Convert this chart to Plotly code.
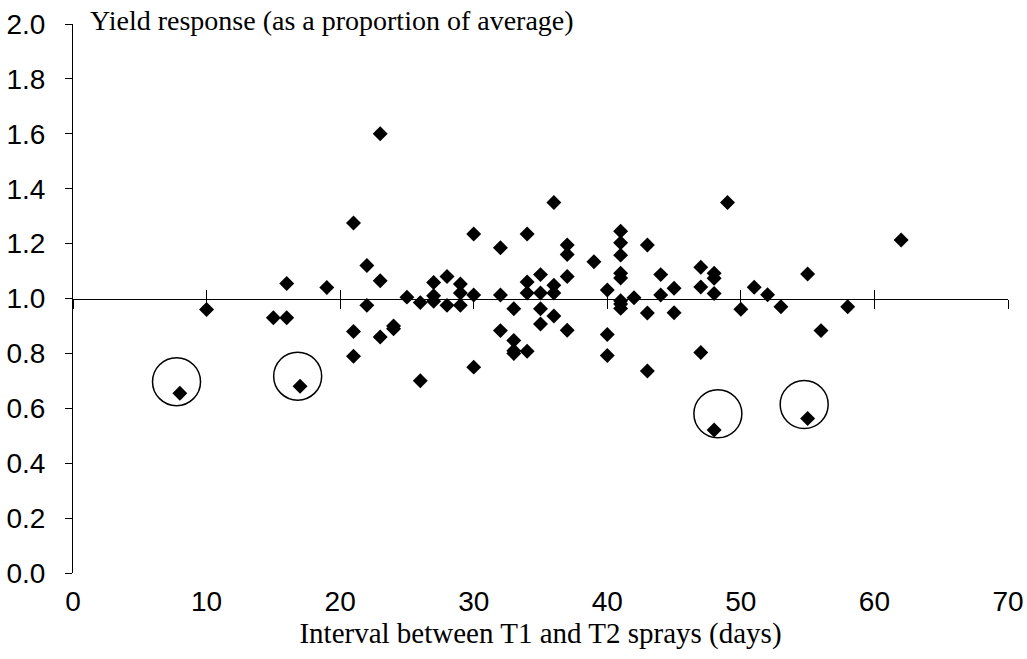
import plotly.graph_objects as go

# Interval between T1 and T2 sprays (days) and yield response (proportion of average)
interval_days = [
    8, 10, 15, 16, 16, 17, 19,
    21, 21, 21, 22, 22, 23, 23, 23, 24, 24, 25, 26, 26,
    27, 27, 27, 28, 28, 29, 29, 29, 30, 30, 30,
    32, 32, 32, 33, 33, 33, 33, 34, 34, 34, 34,
    35, 35, 35, 35, 36, 36, 36, 36, 37, 37, 37, 37,
    39, 40, 40, 40, 41, 41, 41, 41, 41, 41, 41, 41, 42,
    43, 43, 43, 44, 44, 45, 45, 47, 47, 47,
    48, 48, 48, 48, 49, 50, 51, 52, 53, 55, 55, 56, 58, 62,
]
yield_response = [
    0.655, 0.96, 0.93, 1.055, 0.93, 0.68, 1.04,
    1.275, 0.88, 0.79, 1.12, 0.975, 1.60, 1.065, 0.86, 0.90, 0.89, 1.005, 0.985, 0.70,
    1.058, 1.01, 0.99, 1.08, 0.975, 1.053, 1.02, 0.975, 1.235, 1.013, 0.75,
    1.185, 1.013, 0.883, 0.963, 0.847, 0.81, 0.80, 1.235, 1.06, 1.02, 0.808,
    1.087, 1.02, 0.963, 0.907, 1.35, 1.048, 1.02, 0.936, 1.195, 1.16, 1.08, 0.884,
    1.134, 1.031, 0.869, 0.792, 1.245, 1.203, 1.158, 1.092, 1.075, 0.992, 0.98, 0.964, 1.003,
    1.195, 0.947, 0.736, 1.087, 1.013, 1.037, 0.948, 1.114, 1.042, 0.803,
    1.092, 1.074, 1.018, 0.521, 1.35, 0.961, 1.041, 1.014, 0.970, 1.089, 0.563, 0.883, 0.970, 1.213,
]

# Outlying sites highlighted with rings (centre x, centre y)
ring_x = [7.75, 16.82, 48.28, 54.74]
ring_y = [0.697, 0.717, 0.580, 0.614]

x_ticks = [0, 10, 20, 30, 40, 50, 60, 70]
y_ticks = [0.0, 0.2, 0.4, 0.6, 0.8, 1.0, 1.2, 1.4, 1.6, 1.8, 2.0]

fig = go.Figure()
fig.add_trace(go.Scatter(
    x=interval_days, y=yield_response, mode="markers",
    marker=dict(symbol="diamond", size=11.5, color="black", line=dict(width=0)),
    showlegend=False, hoverinfo="x+y",
))
# empty traces so the crossing axes at y = 1.0 are drawn
for ax in ("x2", "x3"):
    fig.add_trace(go.Scatter(x=[None], y=[None], xaxis=ax, yaxis="y",
                             showlegend=False, hoverinfo="skip"))

for cx, cy in zip(ring_x, ring_y):
    fig.add_shape(type="circle", xref="x", yref="y",
                  xsizemode="pixel", ysizemode="pixel",
                  xanchor=cx, yanchor=cy, x0=-24, x1=24, y0=-24, y1=24,
                  line=dict(color="black", width=1.5), fillcolor="rgba(0,0,0,0)")

tick_font = dict(family="Liberation Sans, Arial, sans-serif", size=28, color="black")
serif = "Liberation Serif, Times New Roman, serif"

fig.update_layout(
    width=1027, height=659,
    margin=dict(l=73, r=19, t=24, b=86),
    paper_bgcolor="white", plot_bgcolor="white",
    xaxis=dict(range=[0, 70], tickvals=x_ticks, ticktext=[str(v) for v in x_ticks],
               showline=False, showgrid=False, zeroline=False, ticks="",
               tickfont=tick_font, ticklabelstandoff=9, automargin=False,
               title=dict(text="Interval between T1 and T2 sprays (days)",
                          font=dict(family=serif, size=29, color="black"), standoff=6)),
    xaxis2=dict(overlaying="x", anchor="free", position=0.5, range=[0, 70],
                tickvals=x_ticks, showticklabels=False, showgrid=False, zeroline=False,
                showline=True, linecolor="black", linewidth=1, automargin=False,
                ticks="outside", ticklen=9, tickwidth=1, tickcolor="black"),
    xaxis3=dict(overlaying="x", anchor="free", position=0.5, range=[0, 70],
                tickvals=x_ticks, showticklabels=False, showgrid=False, zeroline=False,
                showline=False, ticks="inside", ticklen=9, tickwidth=1, tickcolor="black",
                automargin=False),
    yaxis=dict(range=[0, 2], tickvals=y_ticks, ticktext=[f"{v:.1f}" for v in y_ticks],
               showline=True, linecolor="black", linewidth=1, showgrid=False, zeroline=False,
               ticks="outside", ticklen=7, tickwidth=1, tickcolor="black",
               tickfont=tick_font, ticklabelstandoff=14, automargin=False),
)

fig.add_annotation(text="Yield response (as a proportion of average)",
                   xref="paper", yref="paper", x=0.016, y=1.007,
                   xanchor="left", yanchor="middle", showarrow=False,
                   font=dict(family=serif, size=28, color="black"))

fig.write_html("out.html")
